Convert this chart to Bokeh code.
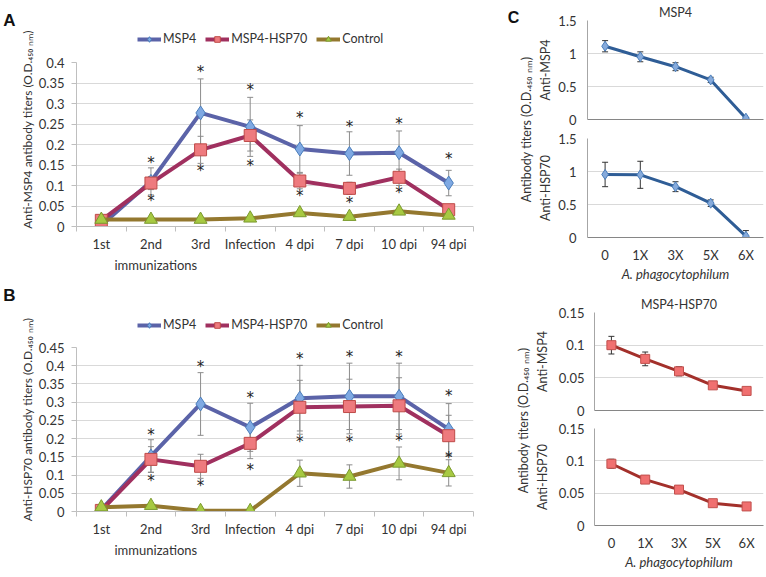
import math
from bokeh.plotting import figure
from bokeh.models import (ColumnDataSource, Whisker, TeeHead, FixedTicker, Title,
                          CustomJSTickFormatter, Legend, LegendItem, Label, Range1d)
from bokeh.layouts import row, column
from bokeh.embed import file_html
from bokeh.resources import INLINE
from bokeh.core.properties import value

FONT = "Lato"
TXT = "#333333"

# ---------------- data ----------------
timepoints = ["1st", "2nd", "3rd", "Infection", "4 dpi", "7 dpi", "10 dpi", "94 dpi"]
series_names = ["MSP4", "MSP4-HSP70", "Control"]

# Panel A: anti-MSP4 antibody titers
a_msp4 = [0.003, 0.110, 0.277, 0.243, 0.189, 0.178, 0.180, 0.106]
a_msp4_err = [0.003, 0.033, 0.083, 0.072, 0.057, 0.053, 0.053, 0.031]
a_fusion = [0.015, 0.106, 0.187, 0.222, 0.111, 0.093, 0.120, 0.041]
a_fusion_err = [0.003, 0.016, 0.033, 0.038, 0.019, 0.015, 0.020, 0.006]
a_control = [0.017, 0.017, 0.017, 0.020, 0.033, 0.024, 0.037, 0.027]
a_control_err = [0.002, 0.002, 0.002, 0.002, 0.004, 0.003, 0.004, 0.003]
a_star_up_cats = ["2nd", "3rd", "Infection", "4 dpi", "7 dpi", "10 dpi", "94 dpi"]
a_star_up = [0.158, 0.380, 0.336, 0.267, 0.246, 0.252, 0.167]
a_star_lo_cats = ["2nd", "3rd", "Infection", "4 dpi", "7 dpi", "10 dpi"]
a_star_lo = [0.065, 0.139, 0.150, 0.077, 0.059, 0.084]
a_yticks = [0, 0.05, 0.1, 0.15, 0.2, 0.25, 0.3, 0.35, 0.4]

# Panel B: anti-HSP70 antibody titers
b_msp4 = [0.005, 0.152, 0.295, 0.231, 0.311, 0.316, 0.316, 0.226]
b_msp4_err = [0.004, 0.045, 0.086, 0.066, 0.090, 0.091, 0.091, 0.070]
b_fusion = [0.003, 0.143, 0.124, 0.187, 0.286, 0.288, 0.290, 0.208]
b_fusion_err = [0.003, 0.035, 0.033, 0.042, 0.074, 0.075, 0.077, 0.056]
b_control = [0.012, 0.016, 0.002, 0.002, 0.105, 0.096, 0.132, 0.106]
b_control_err = [0.003, 0.003, 0.001, 0.001, 0.036, 0.032, 0.045, 0.036]
b_star_up_cats = ["2nd", "3rd", "Infection", "4 dpi", "7 dpi", "10 dpi", "94 dpi"]
b_star_up = [0.214, 0.400, 0.313, 0.421, 0.427, 0.427, 0.319]
b_star_lo_cats = ["2nd", "3rd", "Infection", "4 dpi", "7 dpi", "10 dpi", "94 dpi"]
b_star_lo = [0.087, 0.074, 0.117, 0.193, 0.193, 0.196, 0.149]
b_yticks = [0, 0.05, 0.1, 0.15, 0.2, 0.25, 0.3, 0.35, 0.4, 0.45]

# Panel C: A. phagocytophilum inhibition
doses = ["0", "1X", "3X", "5X", "6X"]
c_msp4_anti_msp4 = [1.11, 0.95, 0.80, 0.60, 0.02]
c_msp4_anti_msp4_err = [0.085, 0.075, 0.06, 0.04, 0.01]
c_msp4_anti_hsp70 = [0.955, 0.950, 0.77, 0.52, 0.02]
c_msp4_anti_hsp70_err = [0.185, 0.205, 0.075, 0.05, 0.085]
c_fus_anti_msp4 = [0.100, 0.079, 0.060, 0.0385, 0.030]
c_fus_anti_msp4_err = [0.0135, 0.0105, 0.007, 0.003, 0.001]
c_fus_anti_hsp70 = [0.0955, 0.071, 0.0555, 0.0345, 0.0295]
c_fus_anti_hsp70_err = [0.007, 0.004, 0.002, 0.0015, 0.001]
c_yticks_msp4 = [0, 0.5, 1, 1.5]
c_yticks_fus = [0, 0.05, 0.1, 0.15]

# ---------------- styles ----------------
BLUE = dict(line="#5B63A8", fill="#7FA9E3", edge="#4A7EBB", marker="diamond", size=14)
RED = dict(line="#A0305F", fill="#EE7A7E", edge="#BE4B48", marker="square", size=12)
OLIVE = dict(line="#94782F", fill="#A7C942", edge="#7A9A2E", marker="triangle", size=13)
CBLUE = dict(line="#2F5D96", fill="#86AADB", edge="#4A7EBB", marker="diamond", size=10)
CRED = dict(line="#A3302B", fill="#F07070", edge="#C0504D", marker="square", size=9)
STYLES = [BLUE, RED, OLIVE]
NAN = float("nan")


def num_fmt():
    return CustomJSTickFormatter(code="return String(Math.round(tick*1000)/1000)")


def cat_fmt(labels):
    return CustomJSTickFormatter(args=dict(labels=labels),
                                 code="return labels[Math.floor(tick)]")


def text_canvas(width, height, mb_top, mb_bottom, y_top, y_bottom):
    # plain figure used only to hold free text (panel letters, rotated titles)
    p = figure(width=width, height=height, x_range=Range1d(0, width),
               y_range=Range1d(y_bottom, y_top), x_axis_location=None,
               y_axis_location=None, output_backend="svg", toolbar_location=None,
               min_border_left=0, min_border_right=0, min_border_top=mb_top,
               min_border_bottom=mb_bottom, outline_line_color=None)
    p.grid.visible = False
    return p


def put_text(p, x, y, text, size="12.5px", bold=False, rotate=False, font=FONT):
    p.add_layout(Label(x=x, y=y, text=text, text_font=font,
                       text_font_style="bold" if bold else "normal",
                       text_font_size=size, text_align="center", text_baseline="middle",
                       text_color="#111111" if bold else TXT,
                       angle=math.pi / 2 if rotate else 0))


def base_fig(width, height, n, yticks, mb):
    p = figure(width=width, height=height, x_range=Range1d(0, n),
               y_range=Range1d(yticks[0], yticks[-1]), output_backend="svg",
               toolbar_location=None, min_border_left=mb[0], min_border_right=mb[1],
               min_border_top=mb[2], min_border_bottom=mb[3], outline_line_color=None,
               background_fill_color="white", border_fill_color="white")
    p.xgrid.visible = False
    p.ygrid.grid_line_color = "#D9D9D9"
    p.ygrid.grid_line_width = 1
    return p


def add_series(p, xs, vals, errs, st, lw, err_color, err_width=1, head=6):
    src = ColumnDataSource(dict(x=xs, y=vals,
                                upper=[v + e for v, e in zip(vals, errs)],
                                lower=[v - e for v, e in zip(vals, errs)]))
    w = Whisker(source=src, base="x", upper="upper", lower="lower",
                line_color=err_color, line_width=err_width,
                upper_head=TeeHead(size=head, line_color=err_color, line_width=err_width),
                lower_head=TeeHead(size=head, line_color=err_color, line_width=err_width))
    p.add_layout(w)
    lr = p.line("x", "y", source=src, line_color=st["line"], line_width=lw)
    sr = p.scatter("x", "y", source=src, marker=st["marker"], size=st["size"],
                   fill_color=st["fill"], line_color=st["edge"], line_width=1)
    return lr, sr


def legend_strip(width, height, mb_left, mb_right, leg_loc):
    p = figure(width=width, height=height, x_range=Range1d(0, 1), y_range=Range1d(0, 1),
               x_axis_location=None, y_axis_location=None, output_backend="svg",
               toolbar_location=None, min_border_left=mb_left, min_border_right=mb_right,
               min_border_top=0, min_border_bottom=0, outline_line_color=None)
    p.grid.visible = False
    items = []
    for name, st in zip(series_names, STYLES):
        lr = p.line(x=[NAN], y=[NAN], line_color=st["line"], line_width=4)
        sr = p.scatter(x=[NAN], y=[NAN], marker=st["marker"], size=st["size"] - 3,
                       fill_color=st["fill"], line_color=st["edge"], line_width=1)
        items.append(LegendItem(label=name, renderers=[lr, sr]))
    leg = Legend(items=items, orientation="horizontal", location=leg_loc,
                 label_text_font=FONT, label_text_font_size="12.5px", label_text_color=TXT,
                 glyph_width=24, glyph_height=14, label_height=14, label_width=10,
                 spacing=9, label_standoff=2, padding=2, margin=0,
                 border_line_color=None, background_fill_alpha=0)
    p.add_layout(leg)
    return p


def time_panel(width, height, mb, yticks, series, stars_up, stars_lo):
    n = len(timepoints)
    xs = [i + 0.5 for i in range(n)]
    p = base_fig(width, height, n, yticks, mb)
    yax = p.yaxis[0]
    yax.ticker = FixedTicker(ticks=yticks)
    yax.formatter = num_fmt()
    yax.axis_line_color = "#BFBFBF"
    yax.major_tick_line_color = "#BFBFBF"
    yax.major_tick_out = 5
    yax.major_tick_in = 0
    yax.minor_tick_line_color = None
    yax.major_label_standoff = 7
    yax.major_label_text_font = FONT
    yax.major_label_text_font_size = "13px"
    yax.major_label_text_color = TXT

    xax = p.xaxis[0]
    xax.ticker = FixedTicker(ticks=xs, minor_ticks=list(range(n + 1)))
    xax.formatter = cat_fmt(timepoints)
    xax.axis_line_color = "#BFBFBF"
    xax.major_tick_out = 0
    xax.major_tick_in = 0
    xax.minor_tick_out = 5
    xax.minor_tick_in = 0
    xax.minor_tick_line_color = "#BFBFBF"
    xax.major_label_standoff = 4
    xax.major_label_text_font = FONT
    xax.major_label_text_font_size = "13px"
    xax.major_label_text_color = TXT

    for (vals, errs), st in zip(series, STYLES):
        add_series(p, xs, vals, errs, st, 4, "#8C8C8C")

    for cats, ys in (stars_up, stars_lo):
        sx = [timepoints.index(c) + 0.5 for c in cats]
        p.text(x=sx, y=ys, text=["*"] * len(ys), text_font=value("DejaVu Sans"),
               text_font_size="15px", text_align="center", text_baseline="middle",
               text_color="#222222", y_offset=1)

    p.add_layout(Title(text="immunizations", align="left", offset=38, standoff=0,
                       text_font=FONT, text_font_size="13px", text_font_style="normal",
                       text_line_height=0.8, text_color=TXT), "below")
    return p


# ---------- left part: panels A and B ----------
LW = 460  # width of the A/B charts
legA = legend_strip(LW, 48, 38, 22, (61, 2))
figA = time_panel(LW, 232, (38, 22, 14, 54), a_yticks,
                  [(a_msp4, a_msp4_err), (a_fusion, a_fusion_err),
                   (a_control, a_control_err)],
                  (a_star_up_cats, a_star_up), (a_star_lo_cats, a_star_lo))
legB = legend_strip(LW, 55, 38, 22, (61, 3))
figB = time_panel(LW, 240, (38, 22, 12, 64), b_yticks,
                  [(b_msp4, b_msp4_err), (b_fusion, b_fusion_err),
                   (b_control, b_control_err)],
                  (b_star_up_cats, b_star_up), (b_star_lo_cats, b_star_lo))

leftlab = text_canvas(35, 575, 0, 0, 0, 575)
put_text(leftlab, 9, 20, "A", size="17px", bold=True, font="Liberation Sans")
put_text(leftlab, 9, 295, "B", size="17px", bold=True, font="Liberation Sans")
put_text(leftlab, 27, 129, "Anti-MSP4 antibody titers (O.D.\u2084\u2085\u2080 \u2099\u2098)",
         size="12px", rotate=True)
put_text(leftlab, 27, 419, "Anti-HSP70 antibody titers (O.D.\u2084\u2085\u2080 \u2099\u2098)",
         size="12px", rotate=True)


# ---------- right part: panel C ----------
def dose_panel(width, height, mb, yticks, vals, errs, st, ylabel, show_x, tick_sd, lab_sd):
    n = len(doses)
    xs = [i + 0.5 for i in range(n)]
    p = base_fig(width, height, n, yticks, mb)
    yax = p.yaxis[0]
    yax.ticker = FixedTicker(ticks=yticks)
    yax.formatter = num_fmt()
    yax.axis_line_color = "#A6A6A6"
    yax.major_tick_line_color = None
    yax.major_tick_out = 0
    yax.major_tick_in = 0
    yax.minor_tick_line_color = None
    yax.major_label_standoff = tick_sd
    yax.major_label_text_font = FONT
    yax.major_label_text_font_size = "13px"
    yax.major_label_text_color = TXT
    yax.axis_label = ylabel
    yax.axis_label_text_font = FONT
    yax.axis_label_text_font_size = "12.5px"
    yax.axis_label_text_font_style = "normal"
    yax.axis_label_text_color = TXT
    yax.axis_label_standoff = lab_sd
    xax = p.xaxis[0]
    xax.axis_line_color = "#868686"
    xax.major_tick_line_color = None
    xax.minor_tick_line_color = None
    xax.major_tick_out = 0
    xax.major_tick_in = 0
    if show_x:
        xax.ticker = FixedTicker(ticks=xs)
        xax.formatter = cat_fmt(doses)
        xax.major_label_standoff = 9
        xax.major_label_text_font = FONT
        xax.major_label_text_font_size = "13px"
        xax.major_label_text_color = TXT
        xax.axis_label = "A. phagocytophilum"
        xax.axis_label_text_font = FONT
        xax.axis_label_text_font_size = "13px"
        xax.axis_label_text_font_style = "italic"
        xax.axis_label_text_color = TXT
        xax.axis_label_standoff = 0
    else:
        xax.ticker = FixedTicker(ticks=[])
        xax.major_label_standoff = 0
    add_series(p, xs, vals, errs, st, 3, "#333333", 1, 6)
    return p


def sub_title(text):
    return Title(text=text, align="center", standoff=2, text_font=FONT,
                 text_font_size="12.5px", text_font_style="normal", text_color=TXT)


shared = "Antibody titers (O.D.\u2084\u2085\u2080 \u2099\u2098)"

c1t = dose_panel(230, 128, (46, 2, 20, 9), c_yticks_msp4, c_msp4_anti_msp4,
                 c_msp4_anti_msp4_err, CBLUE, "Anti-MSP4", False, 11, 2)
c1b = dose_panel(230, 156, (46, 2, 10, 47), c_yticks_msp4, c_msp4_anti_hsp70,
                 c_msp4_anti_hsp70_err, CBLUE, "Anti-HSP70", True, 11, 2)
c1t.add_layout(sub_title("MSP4"), "above")
lab1 = text_canvas(40, 284, 0, 47, 0, 237)
put_text(lab1, 18, 17, "C", size="16px", bold=True, font="Liberation Sans")
put_text(lab1, 31, 129, shared, rotate=True)

c2t = dose_panel(234, 134, (57, 2, 28, 8), c_yticks_fus, c_fus_anti_msp4,
                 c_fus_anti_msp4_err, CRED, "Anti-MSP4", False, 10, 6)
c2b = dose_panel(234, 157, (57, 2, 10, 50), c_yticks_fus, c_fus_anti_hsp70,
                 c_fus_anti_hsp70_err, CRED, "Anti-HSP70", True, 10, 6)
c2t.add_layout(sub_title("MSP4-HSP70"), "above")
lab2 = text_canvas(36, 291, 28, 50, 312, 525)
put_text(lab2, 28, 420, shared, rotate=True)

layout = row(row(column(leftlab), column(legA, figA, legB, figB)),
             column(row(lab1, column(c1t, c1b)), row(lab2, column(c2t, c2b))))

open("out.html", "w").write(file_html(layout, INLINE))
